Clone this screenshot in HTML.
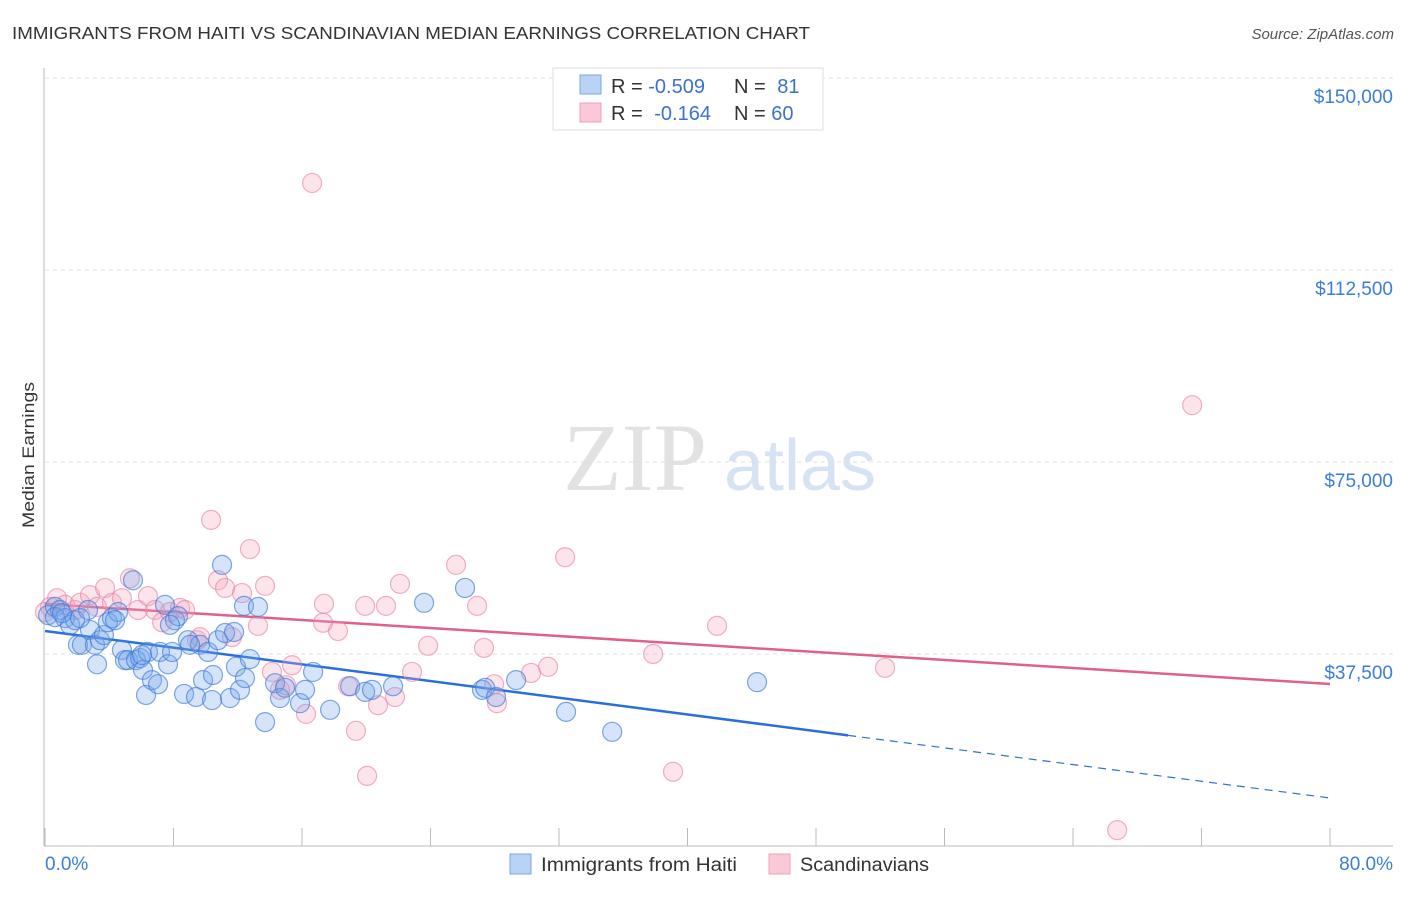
<!DOCTYPE html>
<html><head><meta charset="utf-8"><style>
body{margin:0;background:#fff;font-family:"Liberation Sans",sans-serif;}
svg text{font-family:"Liberation Sans",sans-serif;}
</style></head><body>
<svg id="chart" width="1406" height="892" xmlns="http://www.w3.org/2000/svg">
<text x="12" y="39" font-size="17.5" fill="#333" textLength="798" lengthAdjust="spacingAndGlyphs">IMMIGRANTS FROM HAITI VS SCANDINAVIAN MEDIAN EARNINGS CORRELATION CHART</text>
<text x="1394" y="39" font-size="15" fill="#555" font-style="italic" text-anchor="end">Source: ZipAtlas.com</text>
<g>
<text x="635" y="490" font-size="96" fill="#e2e2e2" text-anchor="middle" style="font-family:'Liberation Serif',serif">ZIP</text>
<text x="800" y="490" font-size="72" fill="#d6e3f4" text-anchor="middle">atlas</text>
</g>
<g id="grid"></g>
<g id="axes"></g>
<g id="trends"></g>
<g id="points"></g>
<text x="34" y="455" font-size="17" fill="#333" text-anchor="middle" transform="rotate(-90 34 455)" textLength="146" lengthAdjust="spacingAndGlyphs">Median Earnings</text>
<g>
<rect x="553" y="68" width="270" height="62" fill="#fff" stroke="#ddd"/>
<rect x="580" y="75" width="21" height="19" fill="#b8d3f5" stroke="#7aa7e6"/>
<rect x="580" y="103" width="21" height="19" fill="#fac8d6" stroke="#f0a0b8"/>
<text x="611" y="93" font-size="20" fill="#333">R = <tspan fill="#3b72d0">-0.509</tspan></text>
<text x="734" y="93" font-size="20" fill="#333">N = <tspan fill="#3b72d0" dx="6">81</tspan></text>
<text x="611" y="120" font-size="20" fill="#333">R = <tspan fill="#3b72d0" dx="6">-0.164</tspan></text>
<text x="734" y="120" font-size="20" fill="#333">N = <tspan fill="#3b72d0">60</tspan></text>
</g>
<g>
<rect x="510" y="854" width="21" height="20" fill="#b8d3f5" stroke="#7aa7e6"/>
<text x="541" y="871" font-size="19" fill="#333" textLength="196" lengthAdjust="spacingAndGlyphs">Immigrants from Haiti</text>
<rect x="769" y="854" width="21" height="20" fill="#fac8d6" stroke="#f0a0b8"/>
<text x="800" y="871" font-size="19" fill="#333" textLength="129" lengthAdjust="spacingAndGlyphs">Scandinavians</text>
</g>
</svg>
<script>
const yTicks=[37500,75000,112500,150000];
const yTickLabels=["$37,500","$75,000","$112,500","$150,000"];
const xTicks=[0,8,16,24,32,40,48,56,64,72,80];
const xLabels=["0.0%","80.0%"];
const haitiX=[0.19,0.62,0.93,1.25,1.56,1.87,2.05,2.30,2.68,2.80,3.11,3.24,3.42,3.67,3.92,4.17,4.55,4.79,4.98,5.17,5.48,5.67,5.92,6.10,6.41,6.29,6.66,7.04,7.16,7.47,7.66,7.91,8.09,8.28,8.66,8.90,9.40,9.65,9.84,10.15,10.40,10.46,10.77,11.02,11.21,11.52,11.77,11.89,12.14,12.45,12.39,12.76,13.26,13.70,14.32,14.63,14.94,15.88,16.19,16.69,17.75,19.00,19.93,20.36,21.67,23.60,26.15,27.21,27.40,28.08,29.33,32.44,35.31,44.33,0.62,1.06,2.18,4.36,6.04,7.78,9.03];
const haitiY=[45.1,46.7,46.1,44.5,43.2,44.1,39.3,39.3,46.1,42.2,39.3,35.5,40.2,41.2,43.7,44.5,45.7,38.3,36.3,36.3,51.9,36.3,36.7,34.4,37.9,29.5,32.4,31.6,37.9,47.1,35.5,37.9,44.1,44.9,29.7,40.2,29.1,39.3,32.4,37.9,28.5,33.4,40.2,54.9,41.6,28.9,41.8,35.0,30.5,32.8,46.9,36.5,46.7,24.2,31.8,28.9,30.9,27.9,30.5,34.0,26.6,31.2,30.1,30.5,31.2,47.5,50.4,30.5,30.9,29.1,32.4,26.2,22.3,32.0,44.7,45.5,44.5,44.1,37.3,43.2,39.3];
const scandX=[0.31,0.75,1.25,1.87,2.18,2.80,3.24,3.74,4.17,4.79,5.29,5.79,6.41,6.85,7.29,7.78,8.41,8.72,9.46,9.65,10.34,10.77,11.21,11.64,12.27,12.76,13.26,13.70,14.13,14.63,15.01,15.38,16.25,16.63,17.37,17.31,18.24,18.87,19.36,19.93,20.05,20.73,21.23,21.79,22.10,22.85,23.85,25.59,26.90,27.33,27.96,28.14,30.26,31.32,32.38,37.86,39.10,41.84,52.30,71.42,66.75,0.0];
const scandY=[46.7,48.4,47.1,46.1,47.5,49.0,46.7,50.4,47.5,48.4,52.3,46.1,48.8,46.1,43.7,45.7,46.5,46.1,40.2,40.8,63.7,51.9,50.4,40.8,49.4,58.0,43.0,50.8,34.0,30.5,31.4,35.3,25.8,129.5,47.3,43.6,42.0,31.2,22.5,46.9,13.7,27.5,46.9,29.1,51.2,34.0,39.1,54.9,46.9,38.7,31.6,27.9,33.8,35.0,56.4,37.5,14.5,43.0,34.8,86.1,3.1,45.7];
const haitiTrend=[41.99,9.38];
const haitiSolidEnd=50;
const scandTrend=[47.26,31.64];
const NS="http://www.w3.org/2000/svg";
const X=v=>45+v/80*1285;
const Y=v=>846-v*1000/37500*192;
function mk(t,a,p){const e=document.createElementNS(NS,t);for(const k in a)e.setAttribute(k,a[k]);p.appendChild(e);return e;}
const grid=document.getElementById('grid'),axes=document.getElementById('axes');
yTicks.forEach((t,i)=>{
 const l=mk('line',{x1:45,x2:1393,y1:Y(t/1000),y2:Y(t/1000),stroke:'#e0e0e0','stroke-dasharray':'4,4'},grid);
 
 
 const tx=mk('text',{x:1393,y:Y(t/1000)+25,'font-size':19,fill:'#3b7dd8','text-anchor':'end'},axes);
 tx.textContent=yTickLabels[i];
 
 
});
const ax=mk('line',{x1:44,x2:44,y1:68,y2:846,stroke:'#bbb'},axes);


const bx=mk('line',{x1:44,x2:1393,y1:846,y2:846,stroke:'#bbb'},axes);


xTicks.forEach(t=>{
 const l=mk('line',{x1:X(t),x2:X(t),y1:828,y2:846,stroke:'#bbb'},axes);
 
 
});
[[0,'start',45],[80,'end',1393]].forEach((d,i)=>{
 const tx=mk('text',{x:d[2],y:870,'font-size':19,fill:'#3b7dd8','text-anchor':d[1]},axes);
 tx.textContent=xLabels[i];
 
 
});
const pts=document.getElementById('points');
function dots(xs,ys,fill,stroke,name){xs.forEach((x,i)=>{
 const c=mk('circle',{cx:X(x),cy:Y(ys[i]),r:9.5,fill:fill,stroke:stroke,'stroke-width':1.2},pts);
 
 
});}
dots(scandX,scandY,'rgba(245,165,190,0.3)','rgba(232,125,162,0.6)','scandinavian-point');
dots(haitiX,haitiY,'rgba(115,165,235,0.3)','rgba(60,120,215,0.65)','haiti-point');
const tr=document.getElementById('trends');
const hy=x=>haitiTrend[0]+(haitiTrend[1]-haitiTrend[0])*x/80;
let l=mk('line',{x1:X(0),y1:Y(hy(0)),x2:X(haitiSolidEnd),y2:Y(hy(haitiSolidEnd)),stroke:'#2a6fdb','stroke-width':2.5},tr);


l=mk('line',{x1:X(haitiSolidEnd),y1:Y(hy(haitiSolidEnd)),x2:X(80),y2:Y(hy(80)),stroke:'#2a6fdb','stroke-width':1.2,'stroke-dasharray':'8,6'},tr);


l=mk('line',{x1:X(0),y1:Y(scandTrend[0]),x2:X(80),y2:Y(scandTrend[1]),stroke:'#e0608a','stroke-width':2.5},tr);


</script>
</body></html>
